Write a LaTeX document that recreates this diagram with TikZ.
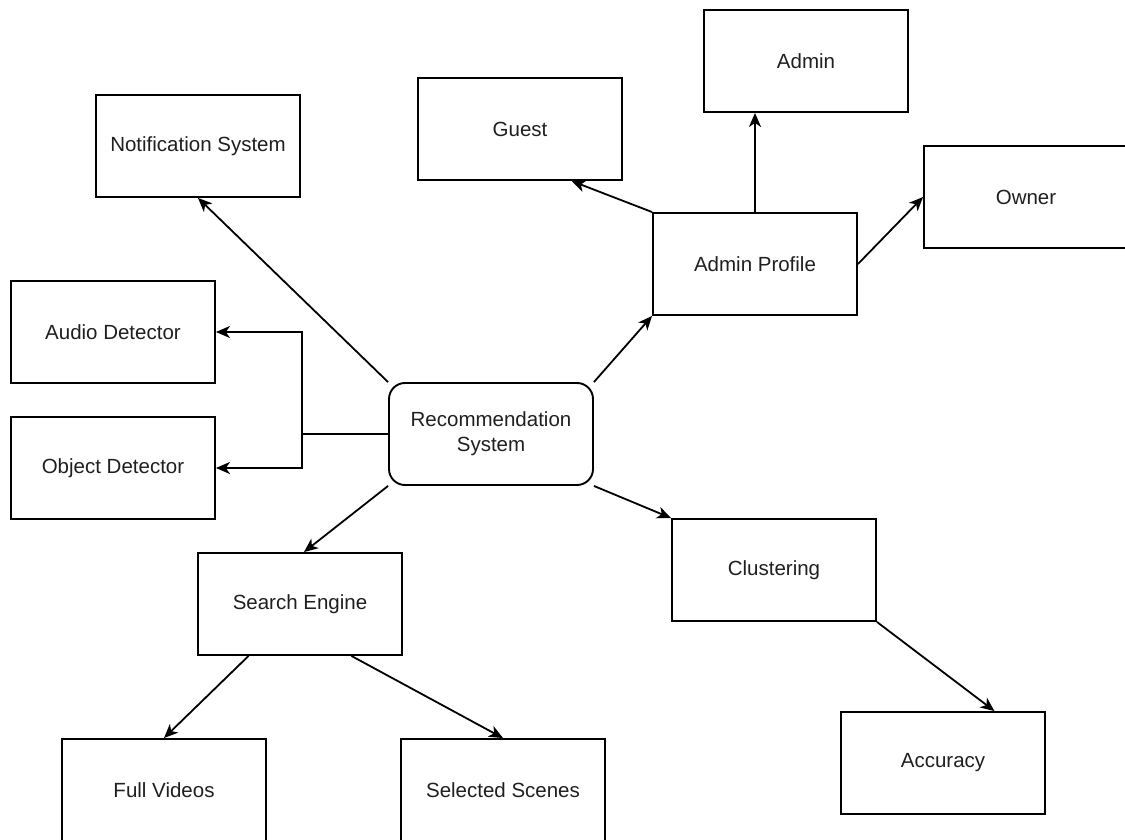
\documentclass[tikz,border=0pt]{standalone}
\usepackage{fontspec}
\setmainfont{Liberation Sans}
\usetikzlibrary{arrows.meta,calc}
\begin{document}
\begin{tikzpicture}[x=1pt,y=-1pt,
  box/.style={draw, line width=1.9pt, minimum width=204pt, minimum height=102pt,
    inner sep=0pt, align=center, text=black!88, font=\fontsize{20.5}{25}\selectfont},
  hub/.style={box, rounded corners=16pt},
  link/.style={line width=1.8pt, -{Stealth[length=14pt,width=12pt,inset=4pt]}},
  plain/.style={line width=1.8pt}]
\useasboundingbox (0,0) rectangle (1125,840);

% central hub
\node[hub] (rs) at (491,434) {Recommendation\\System};

% modules around the hub
\node[box] (notif)  at (198,146) {Notification System};
\node[box] (audio)  at (113,332) {Audio Detector};
\node[box] (object) at (113,468) {Object Detector};
\node[box] (ap)     at (755,264) {Admin Profile};
\node[box] (guest)  at (520,129) {Guest};
\node[box] (admin)  at (806,61)  {Admin};
\node[box] (owner)  at (1026,197) {Owner};
\node[box] (se)     at (300,604) {Search Engine};
\node[box] (cl)     at (774,570) {Clustering};
\node[box] (acc)    at (943,763) {Accuracy};
\node[box] (fv)     at (164,790) {Full Videos};
\node[box] (ss)     at (503,790) {Selected Scenes};

% connectors from the hub
\draw[link] (rs.north west) -- (notif.south);
\coordinate (fork) at (302,434);
\draw[plain] (rs.west) -- (fork);
\draw[link] (fork) |- (audio.east);
\draw[link] (fork) |- (object.east);
\draw[link] (rs.south west) -- ($(se.north)+(4,0)$);
\draw[link] (rs.north east) -- (ap.south west);
\draw[link] (rs.south east) -- (cl.north west);

% admin profile roles
\draw[link] (ap.north west) -- ($(guest.south)!0.5!(guest.south east)$);
\draw[link] (ap.north) -- (ap.north |- admin.south);
\draw[link] (ap.east) -- (owner.west);

% clustering and search results
\draw[link] (cl.south east) -- ($(acc.north)!0.5!(acc.north east)$);
\draw[link] ($(se.south west)!0.25!(se.south east)$) -- (fv.north);
\draw[link] ($(se.south west)!0.75!(se.south east)$) -- (ss.north);
\end{tikzpicture}
\end{document}
